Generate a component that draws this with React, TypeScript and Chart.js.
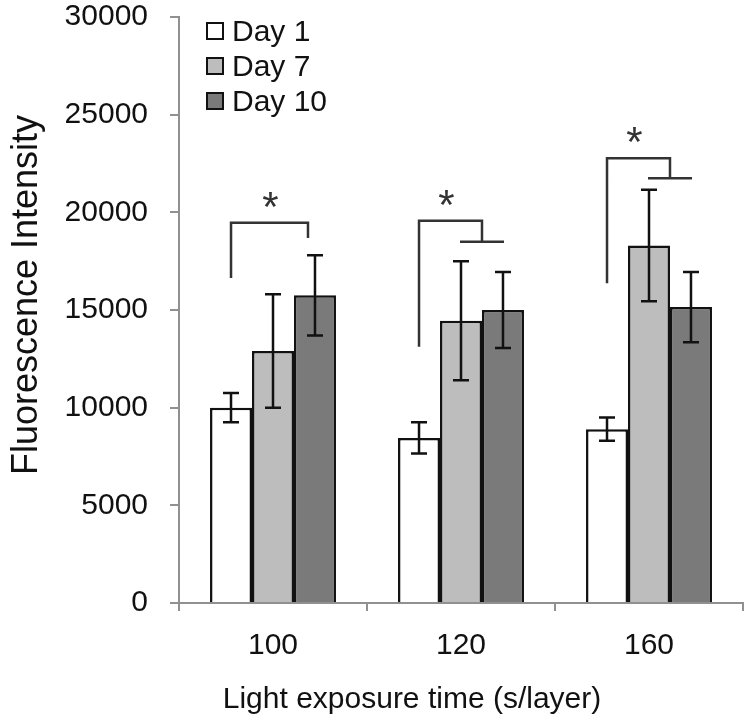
import React, { useEffect, useRef } from "react";
import { Chart, registerables } from "chart.js";

Chart.register(...registerables);

const categories = ["100", "120", "160"];
const seriesLabels = ["Day 1", "Day 7", "Day 10"];
const day1 = [10000, 8450, 8900];
const day1Err = [750, 800, 600];
const day7 = [12900, 14450, 18300];
const day7Err = [2900, 3050, 2850];
const day10 = [15750, 15000, 15150];
const day10Err = [2050, 1950, 1800];
const yTicks = [0, 5000, 10000, 15000, 20000, 25000, 30000];
const xTitle = "Light exposure time (s/layer)";
const yTitle = "Fluorescence Intensity";

// significance brackets per group (values in data units)
const bracketTop = [19470, 19570, 22770];
const bracketLeftBottom = [16640, 13120, 16370];
const bracketRightBottom = [18690, 18500, 21740];
const bracketHasTee = [false, true, true];
const starValue = [20550, 20630, 23870];
const starLabel = ["*", "*", "*"];

const FONT = "'Liberation Sans', Arial, sans-serif";
const fills = ["#ffffff", "#bdbdbd", "#7a7a7a"];
const errs = [day1Err, day7Err, day10Err];

const errorBarPlugin = {
  id: "errorBars",
  afterDatasetsDraw(chart: any) {
    const ctx = chart.ctx;
    const y = chart.scales.y;
    ctx.save();
    ctx.strokeStyle = "#111";
    ctx.lineWidth = 2.5;
    chart.data.datasets.forEach((ds: any, i: number) => {
      const meta = chart.getDatasetMeta(i);
      meta.data.forEach((el: any, j: number) => {
        const v = ds.data[j];
        const e = errs[i][j];
        const x = el.x;
        const yt = y.getPixelForValue(v + e);
        const yb = y.getPixelForValue(v - e);
        const cap = 8;
        ctx.beginPath();
        ctx.moveTo(x, yt);
        ctx.lineTo(x, yb);
        ctx.moveTo(x - cap, yt);
        ctx.lineTo(x + cap, yt);
        ctx.moveTo(x - cap, yb);
        ctx.lineTo(x + cap, yb);
        ctx.stroke();
      });
    });
    ctx.restore();
  },
};

const bracketPlugin = {
  id: "brackets",
  afterDatasetsDraw(chart: any) {
    const ctx = chart.ctx;
    const y = chart.scales.y;
    const m0 = chart.getDatasetMeta(0);
    const m1 = chart.getDatasetMeta(1);
    const m2 = chart.getDatasetMeta(2);
    ctx.save();
    ctx.strokeStyle = "#333";
    ctx.lineWidth = 2.5;
    ctx.lineCap = "butt";
    for (let j = 0; j < categories.length; j++) {
      const xl = m0.data[j].x;
      const xg = m1.data[j].x;
      const xd = m2.data[j].x;
      const yTop = y.getPixelForValue(bracketTop[j]);
      const yLB = y.getPixelForValue(bracketLeftBottom[j]);
      const yRB = y.getPixelForValue(bracketRightBottom[j]);
      const xr = bracketHasTee[j] ? (xg + xd) / 2 : xd - 7;
      ctx.beginPath();
      ctx.moveTo(xl, yLB);
      ctx.lineTo(xl, yTop);
      ctx.lineTo(xr, yTop);
      ctx.lineTo(xr, yRB);
      if (bracketHasTee[j]) {
        ctx.moveTo(xg - 1, yRB);
        ctx.lineTo(xd + 1, yRB);
      }
      ctx.stroke();
      const sx = bracketHasTee[j] ? (xl + xr) / 2 - 4 : (xl + xr) / 2 + 1;
      const sy = y.getPixelForValue(starValue[j]);
      ctx.fillStyle = "#333";
      ctx.font = `42px ${FONT}`;
      ctx.textAlign = "center";
      ctx.textBaseline = "alphabetic";
      ctx.fillText(starLabel[j], sx, sy + 19);
    }
    ctx.restore();
  },
};

const legendPlugin = {
  id: "customLegend",
  afterDraw(chart: any) {
    const ctx = chart.ctx;
    ctx.save();
    const x0 = 207;
    const y0 = 23;
    const gap = 35;
    const size = 16;
    chart.data.datasets.forEach((ds: any, i: number) => {
      const yy = y0 + i * gap;
      ctx.fillStyle = ds.backgroundColor;
      ctx.fillRect(x0, yy, size, size);
      ctx.strokeStyle = "#111";
      ctx.lineWidth = 2;
      ctx.strokeRect(x0, yy, size, size);
      ctx.fillStyle = "#111";
      ctx.font = `30px ${FONT}`;
      ctx.textAlign = "left";
      ctx.textBaseline = "middle";
      ctx.fillText(ds.label, x0 + size + 9, yy + size / 2 + 2);
    });
    ctx.restore();
  },
};

const titlesPlugin = {
  id: "axisTitles",
  afterDraw(chart: any) {
    const ctx = chart.ctx;
    ctx.save();
    ctx.fillStyle = "#111";
    ctx.textAlign = "center";
    ctx.textBaseline = "alphabetic";
    ctx.font = `30px ${FONT}`;
    ctx.fillText(xTitle, 412, 708);
    ctx.translate(37, 295);
    ctx.rotate(-Math.PI / 2);
    ctx.font = `36px ${FONT}`;
    ctx.fillText(yTitle, 0, 0);
    ctx.restore();
  },
};

export default function App() {
  const ref = useRef<HTMLCanvasElement>(null);
  useEffect(() => {
    document.body.style.margin = "0";
    const values = [day1, day7, day10];
    const chart = new Chart(ref.current as HTMLCanvasElement, {
      type: "bar",
      data: {
        labels: categories,
        datasets: seriesLabels.map((label, i) => ({
          label,
          data: values[i],
          backgroundColor: fills[i],
          borderColor: "#111",
          borderWidth: 2.5,
          categoryPercentage: 0.67,
          barPercentage: 1.0,
        })),
      },
      options: {
        responsive: false,
        animation: false,
        layout: { padding: { left: 0, right: 7, top: 17, bottom: 0 } },
        plugins: {
          legend: { display: false },
          tooltip: { enabled: false },
        },
        scales: {
          x: {
            grid: {
              display: true,
              drawOnChartArea: false,
              drawTicks: true,
              tickLength: 8,
              color: "#909090",
              lineWidth: 2,
              offset: true,
            },
            border: { display: true, color: "#909090", width: 2 },
            ticks: {
              color: "#111",
              font: { family: FONT, size: 30 },
              padding: 17,
            },
            afterFit(s: any) {
              s.height = 121;
              s.paddingLeft = 0;
              s.paddingRight = 0;
            },
          },
          y: {
            min: 0,
            max: 30000,
            afterBuildTicks(s: any) {
              s.ticks = yTicks.map((v) => ({ value: v }));
            },
            grid: {
              display: true,
              drawOnChartArea: false,
              drawTicks: true,
              tickLength: 9,
              color: "#909090",
              lineWidth: 2,
            },
            border: { display: true, color: "#909090", width: 2 },
            ticks: {
              color: "#111",
              font: { family: FONT, size: 30 },
              padding: 22,
              callback: (v: any) => String(v),
            },
            afterFit(s: any) {
              s.width = 179;
              s.paddingTop = 0;
              s.paddingBottom = 0;
            },
          },
        },
      },
      plugins: [errorBarPlugin, bracketPlugin, legendPlugin, titlesPlugin],
    });
    return () => chart.destroy();
  }, []);
  return <canvas ref={ref} width={750} height={724} style={{ display: "block" }} />;
}
